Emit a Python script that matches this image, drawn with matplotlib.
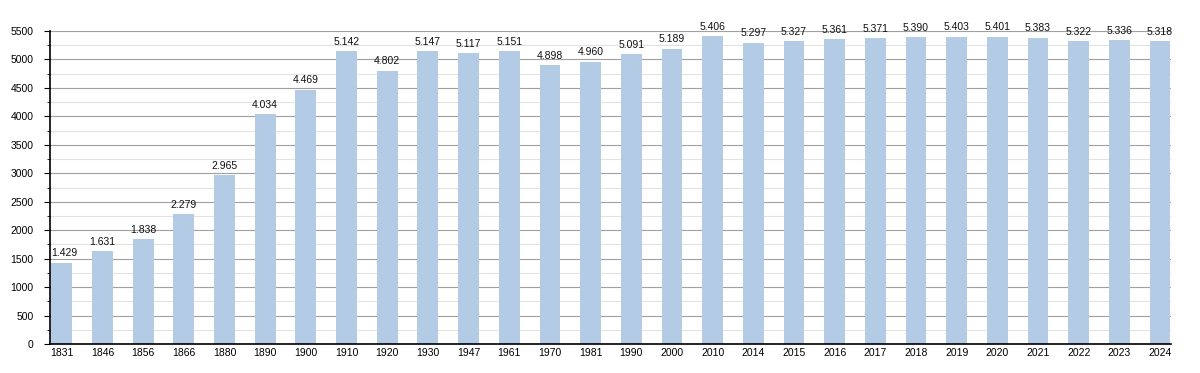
import matplotlib
matplotlib.use("Agg")
import matplotlib.pyplot as plt
from matplotlib.ticker import MultipleLocator

plt.rcParams['font.family'] = ['Liberation Sans', 'DejaVu Sans']

years = ["1831", "1846", "1856", "1866", "1880", "1890", "1900", "1910", "1920", "1930",
         "1947", "1961", "1970", "1981", "1990", "2000", "2010", "2014", "2015", "2016",
         "2017", "2018", "2019", "2020", "2021", "2022", "2023", "2024"]
population = [1429, 1631, 1838, 2279, 2965, 4034, 4469, 5142, 4802, 5147,
              5117, 5151, 4898, 4960, 5091, 5189, 5406, 5297, 5327, 5361,
              5371, 5390, 5403, 5401, 5383, 5322, 5336, 5318]

fig = plt.figure(figsize=(12, 3.73), dpi=100)
ax = fig.add_axes([50/1200, 1 - 344/373, (1171-50)/1200, (344-31)/373])

n = len(years)
x = list(range(n))
bw = 0.51
ax.bar(x, population, width=bw, color="#b3cbe5", zorder=2)

for xi, v in zip(x, population):
    s = f"{v:,}".replace(",", ".")
    if xi == 0:
        ax.text(xi - bw / 2, v + 75, s, ha="left", va="bottom", fontsize=7.5,
                color="#111111", zorder=3)
    else:
        ax.text(xi, v + 75, s, ha="center", va="bottom", fontsize=7.5,
                color="#111111", zorder=3)

ax.set_xlim(-0.29, n - 1 + 0.27)
ax.set_ylim(0, 5500)
ax.yaxis.set_major_locator(MultipleLocator(500))
ax.yaxis.set_minor_locator(MultipleLocator(250))
ax.set_xticks(x)
ax.set_xticklabels(years)
ax.tick_params(axis="x", length=0, labelsize=7.5, pad=3)
ax.tick_params(axis="y", which="major", length=4, labelsize=7.5, pad=8)
ax.tick_params(axis="y", which="minor", length=2)
ax.grid(axis="y", which="major", color="#a0a0a0", linewidth=0.8, zorder=0)
ax.grid(axis="y", which="minor", color="#e2e2e2", linewidth=0.8, zorder=0)
ax.set_axisbelow(True)
for side in ["top", "right"]:
    ax.spines[side].set_visible(False)
ax.spines["left"].set_linewidth(1.2)
ax.spines["bottom"].set_linewidth(1.2)

fig.savefig("out.png", dpi=100)
